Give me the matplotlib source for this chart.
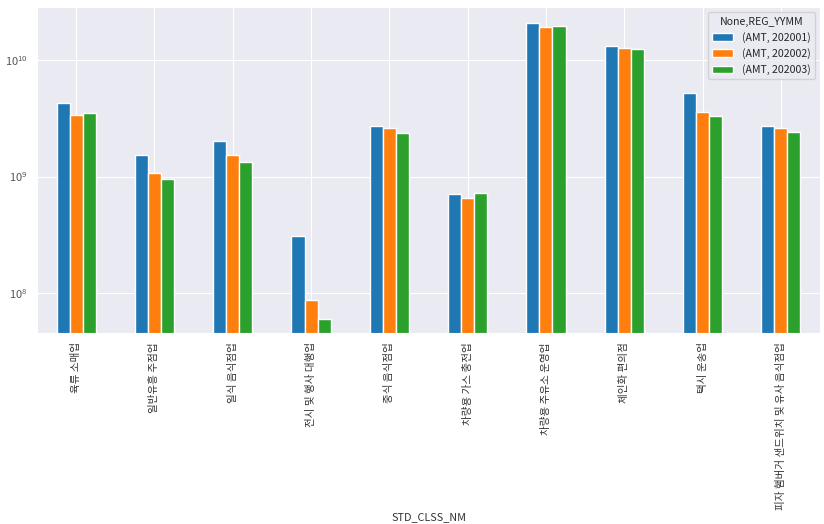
import numpy as np
import pandas as pd
import matplotlib
matplotlib.use("Agg")
import matplotlib.pyplot as plt
import seaborn as sns

sns.set_style("darkgrid")
plt.rcParams['font.family'] = ['Noto Sans CJK KR', 'DejaVu Sans']
plt.rcParams['axes.unicode_minus'] = False

# 업종별 월 매출액 (AMT)
categories = ['육류 소매업', '일반유흥 주점업', '일식 음식점업', '전시 및 행사 대행업', '중식 음식점업',
              '차량용 가스 충전업', '차량용 주유소 운영업', '체인화 편의점', '택시 운송업',
              '피자 햄버거 샌드위치 및 유사 음식점업']
months = ['202001', '202002', '202003']
amt_202001 = [4.28e9, 1.54e9, 2.02e9, 3.11e8, 2.69e9, 7.13e8, 2.07e10, 1.32e10, 5.22e9, 2.72e9]
amt_202002 = [3.34e9, 1.08e9, 1.52e9, 8.81e7, 2.59e9, 6.58e8, 1.89e10, 1.27e10, 3.59e9, 2.62e9]
amt_202003 = [3.48e9, 9.46e8, 1.34e9, 6.07e7, 2.34e9, 7.27e8, 1.93e10, 1.24e10, 3.32e9, 2.42e9]

cols = pd.MultiIndex.from_product([['AMT'], months], names=[None, 'REG_YYMM'])
df = pd.DataFrame(np.array([amt_202001, amt_202002, amt_202003]).T,
                  index=pd.Index(categories, name='STD_CLSS_NM'), columns=cols)

fig = plt.figure(figsize=(8.24, 5.24), dpi=100)
ax = fig.add_axes([37/824, 1 - 333/524, 783/824, 326/524])
df.plot.bar(ax=ax, logy=True, color=['#1f77b4', '#ff7f0e', '#2ca02c'], edgecolor='white')

ax.set_ylim(4.57e7, 2.83e10)
ax.tick_params(axis='x', labelsize=7.6, colors='#333333', pad=3)
ax.tick_params(axis='y', labelsize=8, colors='#555555')
ax.set_xlabel('STD_CLSS_NM', fontsize=7.8, color='#333333')
ax.xaxis.set_label_coords(0.5, -0.55)
for lbl in ax.get_xticklabels():
    lbl.set_rotation(90)

leg = ax.legend(title='None,REG_YYMM', fontsize=7.6, title_fontsize=7.6, loc='upper right')

fig.savefig('out.png', dpi=100)
